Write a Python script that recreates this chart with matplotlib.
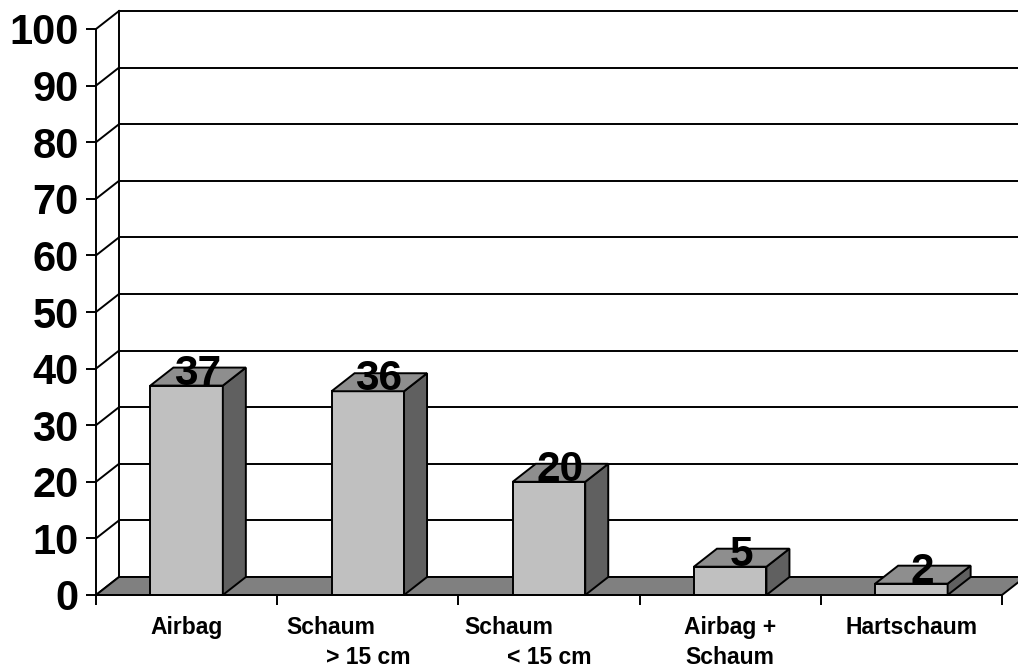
import matplotlib
matplotlib.use("Agg")
import matplotlib.pyplot as plt
import matplotlib.transforms as mtransforms
from matplotlib.patches import Polygon

plt.rcParams['font.family'] = ['Liberation Sans', 'DejaVu Sans']

# ---- data ----
categories = ["Airbag", "Schaum\n> 15 cm", "Schaum\n< 15 cm", "Airbag +\nSchaum", "Hartschaum"]
values = [37, 36, 20, 5, 2]
y_ticks = [0, 10, 20, 30, 40, 50, 60, 70, 80, 90, 100]

# ---- layout / style ----
W, H = 1018, 667
ax_left_px, ax_right_px = 96, 1002
ax_bottom_px, ax_top_px = 595, 29
depth_dx_px, depth_dy_px = 23, 18
bar_width = 0.4
first_line_shift_px = [0, -37, -40, 0, 0]

front_col = '#C0C0C0'
top_col = '#8E8E8E'
side_col = '#606060'
floor_col = '#808080'
lw = 1.4

fig = plt.figure(figsize=(W / 100, H / 100), dpi=100)
ax = fig.add_axes([ax_left_px / W, (H - ax_bottom_px) / H,
                   (ax_right_px - ax_left_px) / W, (ax_bottom_px - ax_top_px) / H])
n = len(categories)
ax.set_xlim(0, n)
ax.set_ylim(0, 100)

DX = depth_dx_px / ((ax_right_px - ax_left_px) / n)
DY = depth_dy_px / ((ax_bottom_px - ax_top_px) / 100)

# back wall gridlines and left side-wall diagonals
for v in y_ticks:
    ax.plot([DX, n + DX], [v + DY, v + DY], color='black', lw=lw, clip_on=False, zorder=1)
    ax.plot([0, DX], [v, v + DY], color='black', lw=lw, clip_on=False, zorder=1)
ax.plot([DX, DX], [DY, 100 + DY], color='black', lw=lw, clip_on=False, zorder=1)

# floor
floor = Polygon([(0, 0), (n, 0), (n + DX, DY), (DX, DY)], closed=True,
                facecolor=floor_col, edgecolor='black', lw=lw, clip_on=False, zorder=2)
ax.add_patch(floor)

# bars
centers = [i + 0.5 for i in range(n)]
ax.bar(centers, values, width=bar_width, color=front_col, edgecolor='black',
       linewidth=lw, zorder=3, clip_on=False)
for c, v in zip(centers, values):
    x0, x1 = c - bar_width / 2, c + bar_width / 2
    top = Polygon([(x0, v), (x1, v), (x1 + DX, v + DY), (x0 + DX, v + DY)], closed=True,
                  facecolor=top_col, edgecolor='black', lw=lw, clip_on=False, zorder=3)
    side = Polygon([(x1, 0), (x1 + DX, DY), (x1 + DX, v + DY), (x1, v)], closed=True,
                   facecolor=side_col, edgecolor='black', lw=lw, clip_on=False, zorder=3)
    ax.add_patch(side)
    ax.add_patch(top)

# value labels
lab_tr = mtransforms.offset_copy(ax.transData, fig=fig, x=11 * 0.72, y=1 * 0.72, units='points')
for c, v in zip(centers, values):
    ax.text(c, v, str(v), transform=lab_tr, ha='center', va='baseline',
            fontsize=30.5, fontweight='bold', color='black', zorder=5)

# axes styling
for s in ['top', 'right']:
    ax.spines[s].set_visible(False)
ax.spines['left'].set_linewidth(lw)
ax.spines['bottom'].set_linewidth(lw)
ax.spines['bottom'].set_zorder(4)
ax.set_yticks(y_ticks)
ax.set_yticklabels([str(t) for t in y_ticks], fontsize=30, fontweight='bold')
ax.set_xticks(list(range(n + 1)))
ax.set_xticklabels([])
ax.tick_params(axis='y', direction='out', length=7, width=lw, pad=5.5)
ax.tick_params(axis='x', direction='out', length=7, width=lw)
ax.set_facecolor('none')

# category labels
xtr = ax.get_xaxis_transform()
for i, (c, lab) in enumerate(zip(centers, categories)):
    lines = lab.split("\n")
    for j, line in enumerate(lines):
        shift = first_line_shift_px[i] if (j == 0 and len(lines) > 1) else 0
        tr = mtransforms.offset_copy(xtr, fig=fig, x=shift * 0.72,
                                     y=-(39 + 30 * j) * 0.72, units='points')
        ax.text(c, 0, line, transform=tr, ha='center', va='baseline',
                fontsize=16.5, fontweight='bold', color='black')

fig.savefig("out.png", dpi=100)
